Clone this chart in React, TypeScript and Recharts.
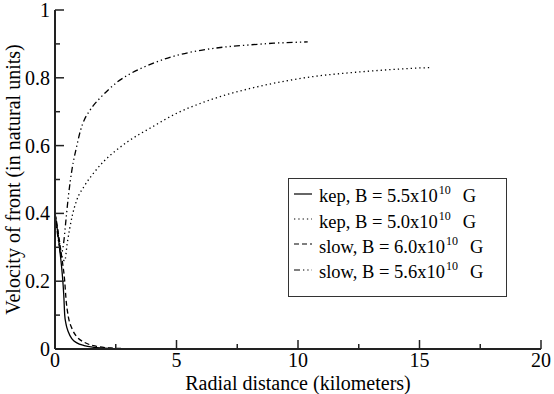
import { LineChart, Line, XAxis, YAxis, Legend } from "recharts";

// radial distance (km) -> front velocity (natural units)
const kep55R = [0, 0.1, 0.2, 0.3, 0.36, 0.4, 0.45, 0.55, 0.7, 0.9, 1.2, 1.6, 2.2, 3, 4];
const kep55V = [0.4, 0.35, 0.29, 0.22, 0.16, 0.1, 0.075, 0.05, 0.03, 0.018, 0.01, 0.005, 0.002, 0.001, 0];

const kep50R = [0, 0.15, 0.3, 0.4, 0.5, 0.7, 0.9, 1.2, 1.6, 2, 2.5, 3, 4, 5, 6, 7, 8, 9, 10, 11, 12, 13, 14, 15, 15.5];
const kep50V = [0.4, 0.33, 0.27, 0.26, 0.31, 0.39, 0.44, 0.48, 0.52, 0.553, 0.585, 0.612, 0.655, 0.695, 0.725, 0.749, 0.768, 0.784, 0.797, 0.807, 0.814, 0.82, 0.825, 0.829, 0.83];

const slow60R = [0, 0.1, 0.2, 0.3, 0.4, 0.45, 0.55, 0.7, 0.9, 1.2, 1.7, 2.3, 3, 3.5];
const slow60V = [0.4, 0.36, 0.31, 0.26, 0.2, 0.15, 0.095, 0.06, 0.036, 0.02, 0.008, 0.003, 0.001, 0];

const slow56R = [0, 0.12, 0.25, 0.35, 0.45, 0.55, 0.7, 0.9, 1.05, 1.2, 1.4, 1.6, 1.85, 2.2, 2.55, 3, 4, 5, 6, 7, 8, 9, 10, 10.4];
const slow56V = [0.4, 0.33, 0.28, 0.31, 0.38, 0.45, 0.53, 0.6, 0.645, 0.675, 0.7, 0.72, 0.74, 0.765, 0.787, 0.808, 0.842, 0.866, 0.881, 0.891, 0.897, 0.902, 0.905, 0.906];

const xTicks = [0, 2.5, 5, 7.5, 10, 12.5, 15, 17.5, 20];
const yTicks = [0, 0.1, 0.2, 0.3, 0.4, 0.5, 0.6, 0.7, 0.8, 0.9, 1];
const xMajor = [0, 5, 10, 15, 20];
const yMajor = [0, 0.2, 0.4, 0.6, 0.8, 1];

const FONT = "'Liberation Serif', 'Times New Roman', serif";

const toPoints = (rs: number[], vs: number[]) => rs.map((r, i) => ({ r, v: vs[i] }));

const SERIES = [
  { key: "kep55", pre: "kep, B = 5.5x10", data: toPoints(kep55R, kep55V), dash: undefined },
  { key: "kep50", pre: "kep, B = 5.0x10", data: toPoints(kep50R, kep50V), dash: "1.3 3" },
  { key: "slow60", pre: "slow, B = 6.0x10", data: toPoints(slow60R, slow60V), dash: "5 3" },
  { key: "slow56", pre: "slow, B = 5.6x10", data: toPoints(slow56R, slow56V), dash: "6 3 1.3 3 1.3 3" },
];

const BottomTick = ({ x, y, payload }: any) => {
  const major = xMajor.includes(payload.value);
  return (
    <g>
      <line x1={x} x2={x} y1={y} y2={y - (major ? 9 : 5)} stroke="#222" strokeWidth={1.5} />
      {major && (
        <text x={x} y={y + 18} textAnchor="middle" style={{ fontFamily: FONT }} fontSize={20} fill="#000">
          {payload.value}
        </text>
      )}
    </g>
  );
};

const TopTick = ({ x, y, payload }: any) => {
  const major = xMajor.includes(payload.value);
  return <line x1={x} x2={x} y1={y} y2={y + (major ? 9 : 5)} stroke="#222" strokeWidth={1.5} />;
};

const LeftTick = ({ x, y, payload }: any) => {
  const major = yMajor.includes(payload.value);
  return (
    <g>
      <line x1={x} x2={x + (major ? 9 : 5)} y1={y} y2={y} stroke="#222" strokeWidth={1.5} />
      {major && (
        <text x={x - 5} y={y + 7} textAnchor="end" style={{ fontFamily: FONT }} fontSize={20} fill="#000">
          {payload.value}
        </text>
      )}
    </g>
  );
};

const RightTick = ({ x, y, payload }: any) => {
  const major = yMajor.includes(payload.value);
  return <line x1={x} x2={x - (major ? 9 : 5)} y1={y} y2={y} stroke="#222" strokeWidth={1.5} />;
};

const LegendBox = () => (
  <div
    style={{
      boxSizing: "border-box",
      width: 219,
      height: 119,
      border: "1px solid #333",
      background: "#fff",
      paddingTop: 5,
      fontFamily: FONT,
      fontSize: 18.5,
      color: "#000",
    }}
  >
    {SERIES.map((s) => (
      <div key={s.key} style={{ display: "flex", alignItems: "center", height: 25.4, whiteSpace: "nowrap" }}>
        <svg width={26} height={20} style={{ marginLeft: 4, position: "relative", top: -3 }}>
          <line x1={1} x2={19} y1={10} y2={10} stroke="#000" strokeWidth={1.2} strokeDasharray={s.dash} />
        </svg>
        <span>
          {s.pre}
          <span style={{ fontSize: 12, position: "relative", top: -8, marginLeft: 1 }}>10</span>
          <span style={{ marginLeft: 12 }}>G</span>
        </span>
      </div>
    ))}
  </div>
);

export default function App() {
  return (
    <div style={{ position: "absolute", left: 0, top: 0, background: "#fff", fontFamily: FONT }}>
      <LineChart width={554} height={394} margin={{ top: 10, right: 13, bottom: 0, left: 0 }} style={{ fontFamily: FONT }}>
        <XAxis
          dataKey="r"
          type="number"
          domain={[0, 20]}
          ticks={xTicks}
          interval={0}
          height={45}
          tickSize={0}
          tickMargin={0}
          tick={<BottomTick />}
          axisLine={{ stroke: "#222", strokeWidth: 2 }}
          allowDataOverflow
          label={{ value: "Radial distance (kilometers)", position: "insideBottom", offset: 4, fontSize: 20, fill: "#000", style: { fontFamily: FONT } }}
        />
        <XAxis
          xAxisId="top"
          orientation="top"
          dataKey="r"
          type="number"
          domain={[0, 20]}
          ticks={xTicks}
          interval={0}
          height={0}
          tickSize={0}
          tickMargin={0}
          tick={<TopTick />}
          axisLine={{ stroke: "#222", strokeWidth: 2 }}
        />
        <YAxis
          dataKey="v"
          type="number"
          domain={[0, 1]}
          ticks={yTicks}
          interval={0}
          width={55}
          tickSize={0}
          tickMargin={0}
          tick={<LeftTick />}
          axisLine={{ stroke: "#222", strokeWidth: 2 }}
          allowDataOverflow
          label={{ value: "Velocity of front (in natural units)", angle: -90, position: "center", dx: -15, fontSize: 20, fill: "#000", style: { fontFamily: FONT } }}
        />
        <YAxis
          yAxisId="right"
          orientation="right"
          type="number"
          domain={[0, 1]}
          ticks={yTicks}
          interval={0}
          width={0}
          tickSize={0}
          tickMargin={0}
          tick={<RightTick />}
          axisLine={{ stroke: "#222", strokeWidth: 2 }}
        />
        {SERIES.map((s) => (
          <Line
            key={s.key}
            data={s.data}
            dataKey="v"
            type="monotone"
            stroke="#000"
            strokeWidth={1.3}
            strokeDasharray={s.dash}
            dot={false}
            isAnimationActive={false}
            legendType="none"
          />
        ))}
        <Legend
          layout="vertical"
          align="center"
          verticalAlign="middle"
          content={<LegendBox />}
          wrapperStyle={{ left: 288, top: 178, width: 219 }}
        />
      </LineChart>
    </div>
  );
}
